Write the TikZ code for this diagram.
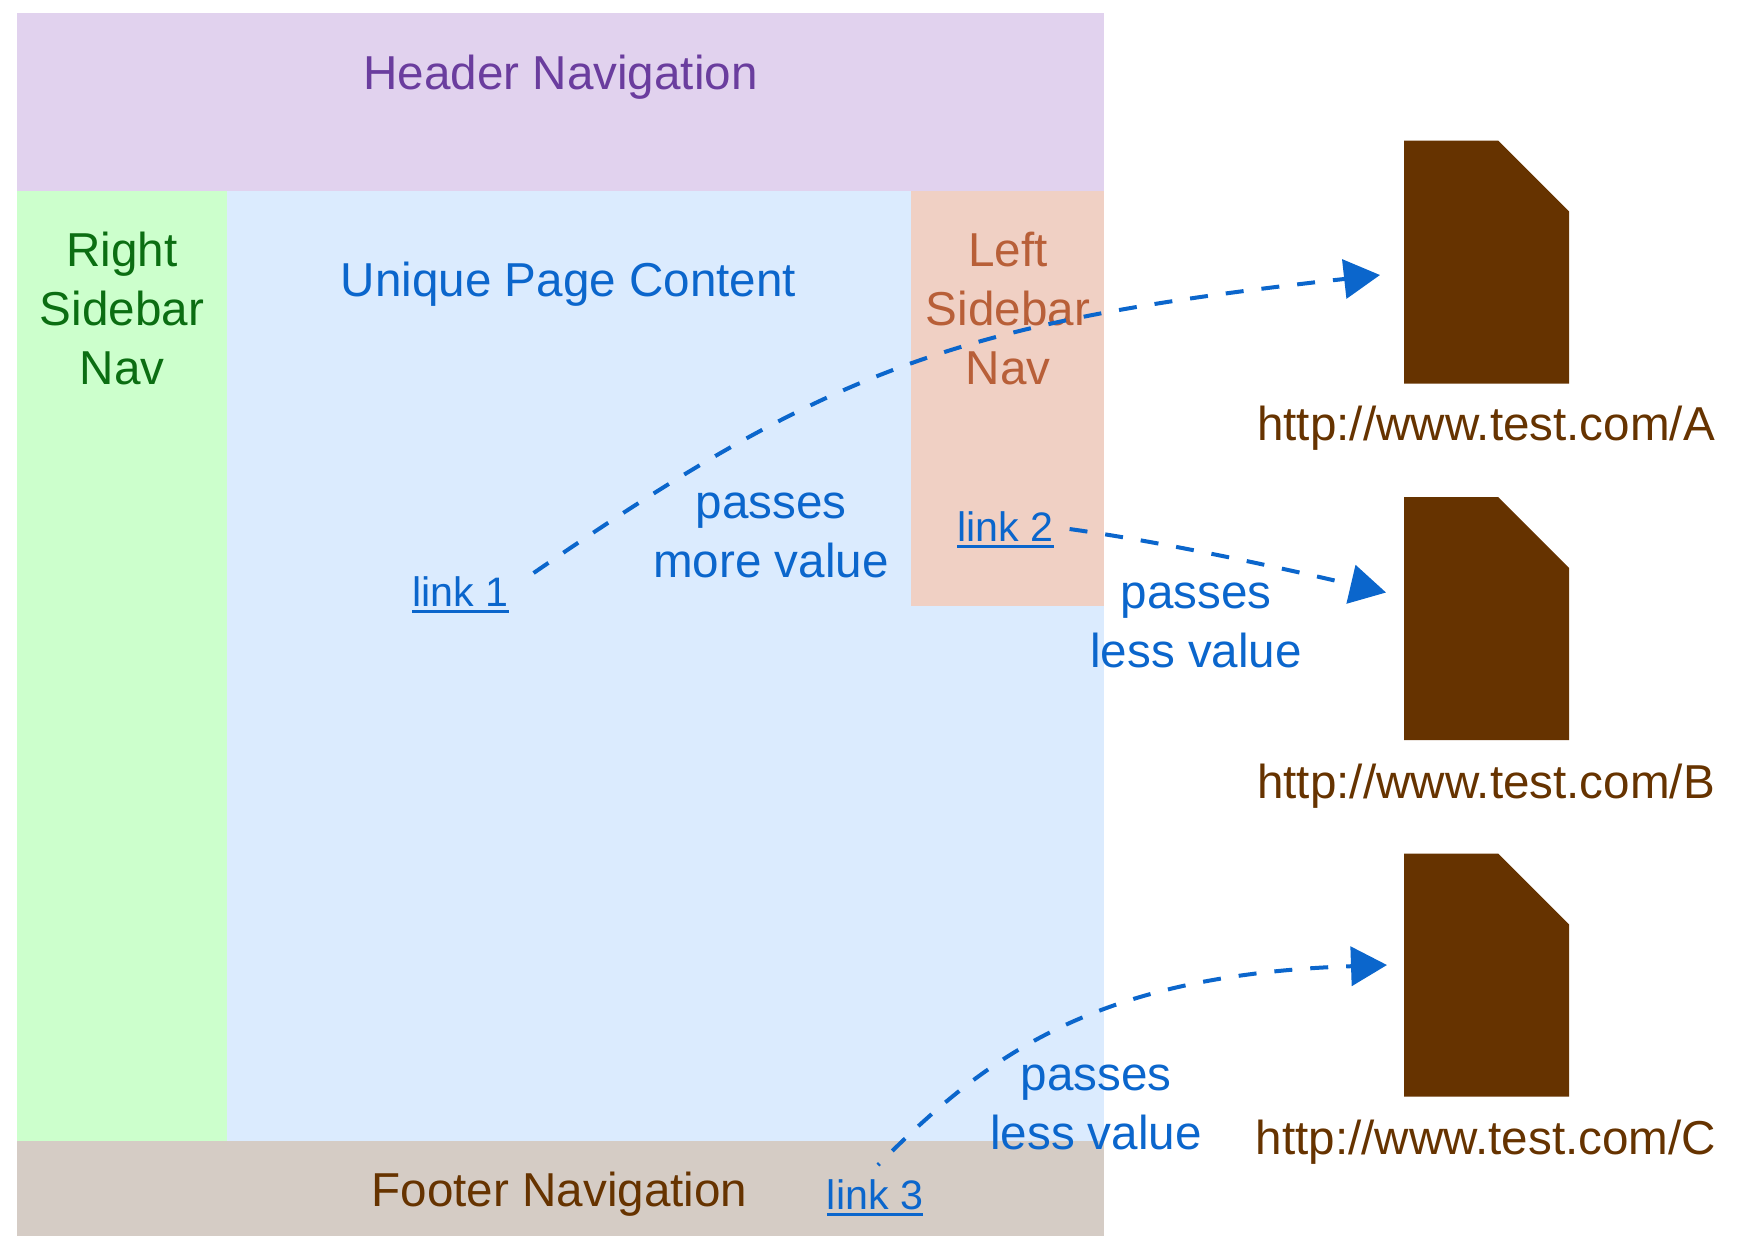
\documentclass[tikz,border=0pt]{standalone}
\usepackage{fontspec}
\setmainfont{Liberation Sans}
\usetikzlibrary{arrows.meta}
\definecolor{hdrfill}{HTML}{E1D2EE}
\definecolor{hdrtext}{HTML}{6A3D9E}
\definecolor{grnfill}{HTML}{CCFFCC}
\definecolor{grntext}{HTML}{0B6E12}
\definecolor{blufill}{HTML}{DBEBFE}
\definecolor{blutext}{HTML}{0B66CC}
\definecolor{lftfill}{HTML}{F0D0C4}
\definecolor{lfttext}{HTML}{B85F38}
\definecolor{ftrfill}{HTML}{D5CCC5}
\definecolor{brown}{HTML}{663300}
\newcommand{\lnkline}[1]{{\setbox0=\hbox{#1}\rlap{\raisebox{-3.4pt}{\rule{\wd0}{1.2pt}}}\box0}}
\tikzset{
  label/.style={anchor=base,inner sep=0pt,outer sep=0pt,align=center,font=\fontsize{23.8}{29.5}\selectfont},
  linklabel/.style={anchor=base,inner sep=0pt,outer sep=0pt,text=blutext,font=\fontsize{20.6}{25}\selectfont},
  docbox/.style={inner sep=0pt,outer sep=0pt,anchor=north west,minimum width=82.5pt,minimum height=121.5pt},
  flow/.style={draw=blutext,line width=2pt,dash pattern=on 9pt off 9pt,
    -{Triangle[length=18pt,width=19.5pt]}},
}
\begin{document}
\begin{tikzpicture}[x=0.5pt,y=-0.5pt]
\useasboundingbox (0,0) rectangle (1750,1239);
% panels
\fill[blufill] (227,190) rectangle (1104,1141);
\fill[hdrfill] (17,12.5) rectangle (1104,190.5);
\fill[grnfill] (17,190.5) rectangle (227,1141);
\fill[lftfill] (911,190.5) rectangle (1104,606);
\fill[ftrfill] (17,1141) rectangle (1104,1236);
% documents
\node[docbox] (docA) at (1404,140.5) {};
\node[docbox] (docB) at (1404,497) {};
\node[docbox] (docC) at (1404,853.5) {};
\foreach \d in {docA,docB,docC}
  \fill[brown] (\d.north west) -- ([xshift=-35.5pt]\d.north east) -- ([yshift=-35.5pt]\d.north east)
     -- (\d.south east) -- (\d.south west) -- cycle;
% labels
\node[label,text=hdrtext] (header) at (560.5,89) {Header Navigation};
\node[label,text=grntext] (right) at (122,384.5) {Right\\Sidebar\\Nav};
\node[label,text=lfttext] (left) at (1008,384.5) {Left\\Sidebar\\Nav};
\node[label,text=blutext] (content) at (568.5,296) {Unique Page Content};
\node[label,text=brown] (footer) at (559.5,1206) {Footer Navigation};
\node[label,text=blutext] (more) at (771,577) {passes\\more value};
\node[label,text=blutext] (lessB) at (1196,667) {passes\\less value};
\node[label,text=blutext] (lessC) at (1096,1149) {passes\\less value};
\node[label,text=brown] (urlA) at (1486,440) {http://www.test.com/A};
\node[label,text=brown] (urlB) at (1486,798) {http://www.test.com/B};
\node[label,text=brown] (urlC) at (1486,1154) {http://www.test.com/C};
\node[linklabel] (link1) at (460.5,606) {\lnkline{link 1}};
\node[linklabel] (link2) at (1005.5,541) {\lnkline{link 2}};
\node[linklabel] (link3) at (875,1209) {\lnkline{link 3}};
% connectors
\coordinate (s1) at ([shift={(25,-33)}]link1.base east);
\coordinate (s2) at ([shift={(16,-12)}]link2.base east);
\coordinate (s3) at ([shift={(3,-44)}]link3.base);
\coordinate (e1) at ([shift={(-24,13)}]docA.west);
\coordinate (e2) at ([shift={(-18,-26)}]docB.west);
\coordinate (e3) at ([shift={(-17,-10)}]docC.west);
\draw[flow] (s1) .. controls (832,368) and (957,322) .. (e1);
\draw[flow] (s2) .. controls (1170,543) and (1290,570) .. (e2);
\draw[flow,dash phase=8pt] (s3) .. controls (983,1060) and (1089,975) .. (e3);
\end{tikzpicture}
\end{document}
